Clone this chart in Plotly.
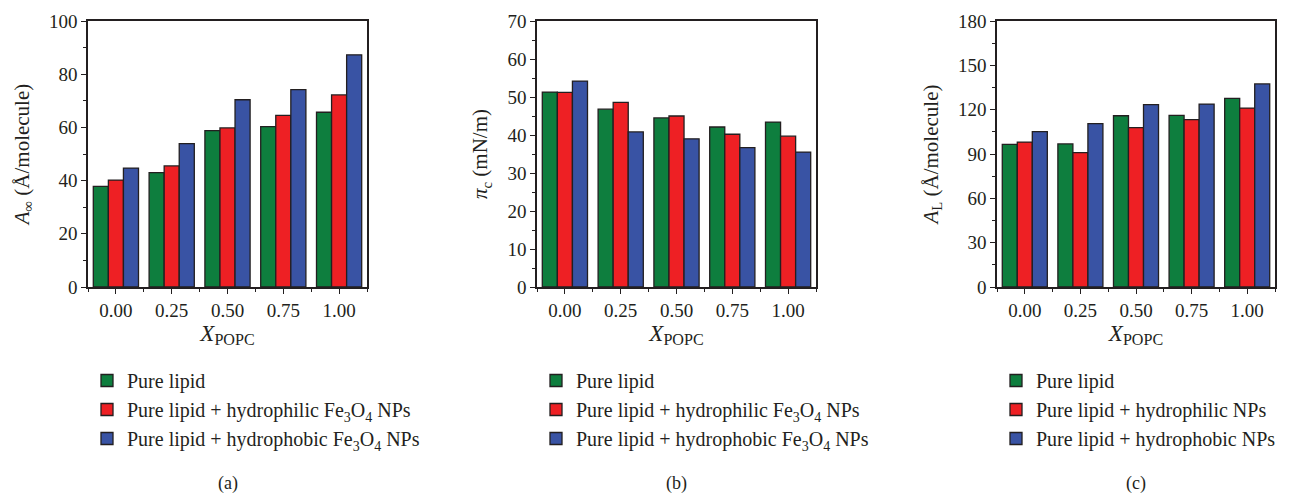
import plotly.graph_objects as go
from plotly.subplots import make_subplots

categories = ["0.00", "0.25", "0.50", "0.75", "1.00"]
xpos = [0, 1, 2, 3, 4]

# Panel (a): A_inf (Å/molecule)
a_pure = [37.8, 43.0, 58.8, 60.3, 65.7]
a_philic = [40.2, 45.5, 59.8, 64.5, 72.2]
a_phobic = [44.7, 53.9, 70.4, 74.2, 87.3]

# Panel (b): pi_c (mN/m)
b_pure = [51.3, 46.8, 44.5, 42.1, 43.4]
b_philic = [51.2, 48.6, 45.0, 40.2, 39.7]
b_phobic = [54.2, 40.8, 39.0, 36.7, 35.5]

# Panel (c): A_L (Å/molecule)
c_pure = [96.5, 96.8, 115.9, 116.2, 127.7]
c_philic = [98.1, 90.9, 107.8, 113.2, 121.1]
c_phobic = [105.1, 110.5, 123.4, 123.8, 137.4]

names_ab = ["Pure lipid",
            "Pure lipid + hydrophilic Fe<sub>3</sub>O<sub>4</sub> NPs",
            "Pure lipid + hydrophobic Fe<sub>3</sub>O<sub>4</sub> NPs"]
names_c = ["Pure lipid",
           "Pure lipid + hydrophilic NPs",
           "Pure lipid + hydrophobic NPs"]

colors = ["#0E7E3E", "#EE2024", "#3953A4"]
ink = "#231F20"
FONT = "Liberation Serif, Times New Roman, serif"

W, H = 1295, 494
fig = make_subplots(rows=1, cols=3)

panels = [
    ([a_pure, a_philic, a_phobic], names_ab, "legend", 100, 20, 10,
     "<i>A</i><sub>∞</sub> (Å/molecule)"),
    ([b_pure, b_philic, b_phobic], names_ab, "legend2", 70, 10, 5,
     "<i>π</i><sub>c</sub> (mN/m)"),
    ([c_pure, c_philic, c_phobic], names_c, "legend3", 180, 30, 15,
     "<i>A</i><sub>L</sub> (Å/molecule)"),
]

xdoms = [(88, 367), (537, 816), (997, 1275)]
ydom = [1 - 287 / H, 1 - 21 / H]

for i, (series, names, leg, ymax, dt, mdt, ytitle) in enumerate(panels):
    col = i + 1
    for s, nm, colr in zip(series, names, colors):
        fig.add_trace(go.Bar(x=xpos, y=s, name=nm, legend=leg,
                             marker=dict(color=colr, line=dict(color=ink, width=1.3))),
                      row=1, col=col)
    x0, x1 = xdoms[i]
    fig.update_xaxes(domain=[x0 / W, x1 / W], range=[-0.5, 4.5], automargin=False,
                     tickmode="array", tickvals=xpos, ticktext=categories,
                     ticks="outside", ticklen=5, tickwidth=1.3, tickcolor=ink,
                     minor=dict(ticks="outside", ticklen=3, tickwidth=1, tickcolor=ink,
                                dtick=0.5, tick0=-0.5),
                     showline=True, linecolor=ink, linewidth=1.5, mirror=True,
                     showgrid=False, zeroline=False,
                     title=dict(text="<i>X</i><sub>POPC</sub>",
                                font=dict(size=23, family=FONT, color=ink), standoff=5),
                     tickfont=dict(size=19, family=FONT, color=ink),
                     row=1, col=col)
    fig.update_yaxes(domain=ydom, range=[0, ymax], dtick=dt, tick0=0, automargin=False,
                     ticks="outside", ticklen=5, tickwidth=1.3, tickcolor=ink,
                     minor=dict(ticks="outside", ticklen=3, tickwidth=1, tickcolor=ink,
                                dtick=mdt),
                     showline=True, linecolor=ink, linewidth=1.5, mirror=True,
                     showgrid=False, zeroline=False,
                     title=dict(text=ytitle, font=dict(size=21, family=FONT, color=ink),
                                standoff=14),
                     tickfont=dict(size=19, family=FONT, color=ink),
                     row=1, col=col)

leg_common = dict(font=dict(size=20, family=FONT, color=ink), bgcolor="rgba(0,0,0,0)",
                  borderwidth=0, xanchor="left", yanchor="top", tracegroupgap=0,
                  itemclick=False)
fig.update_layout(
    legend=dict(x=87 / W, y=1 - 361 / H, **leg_common),
    legend2=dict(x=536 / W, y=1 - 361 / H, **leg_common),
    legend3=dict(x=996 / W, y=1 - 361 / H, **leg_common),
)

labels = ["(a)", "(b)", "(c)"]
for (x0, x1), lab in zip(xdoms, labels):
    fig.add_annotation(text=lab, x=(x0 + x1) / 2 / W, y=1 - 483 / H,
                       xref="paper", yref="paper", showarrow=False,
                       font=dict(size=18, family=FONT, color=ink),
                       xanchor="center", yanchor="middle")

fig.update_layout(width=W, height=H, margin=dict(l=0, r=0, t=0, b=0),
                  barmode="group", bargap=0.19, bargroupgap=0,
                  plot_bgcolor="white", paper_bgcolor="white", showlegend=True)

fig.write_html("out.html")
